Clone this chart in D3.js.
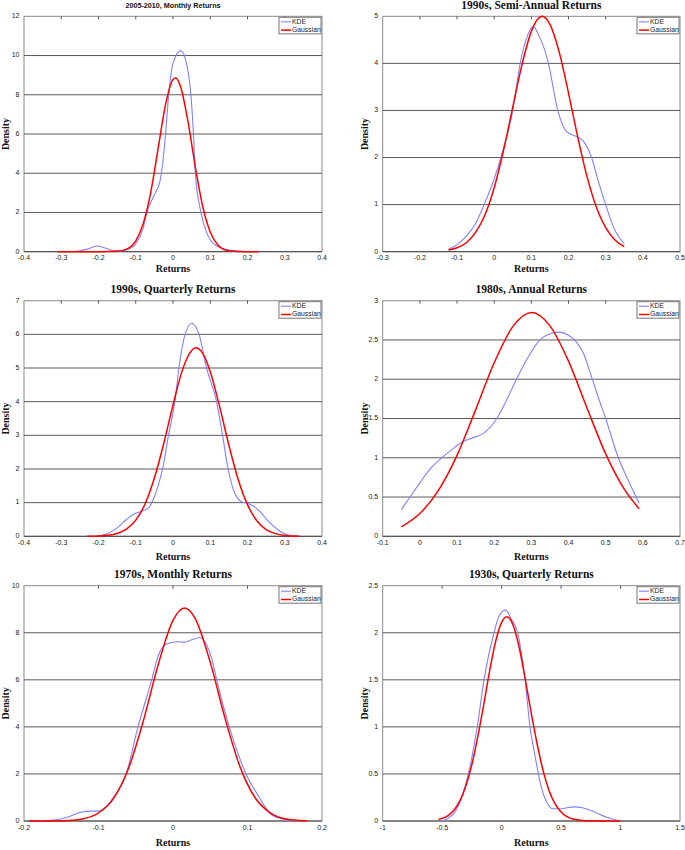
<!DOCTYPE html>
<html><head><meta charset="utf-8">
<script src="https://cdn.jsdelivr.net/npm/d3@7"></script>
<style>body{margin:0;background:#fff}svg{display:block}</style>
</head><body>
<svg id="c" width="685" height="850"></svg>
<script>
// ---------- DATA ----------
const titles = ["2005-2010, Monthly Returns","1990s, Semi-Annual Returns","1990s, Quarterly Returns","1980s, Annual Returns","1970s, Monthly Returns","1930s, Quarterly Returns"];
const legendLabels = ["KDE","Gaussian"];
const xTicks = [
  [-0.4,-0.3,-0.2,-0.1,0,0.1,0.2,0.3,0.4],
  [-0.3,-0.2,-0.1,0,0.1,0.2,0.3,0.4,0.5],
  [-0.4,-0.3,-0.2,-0.1,0,0.1,0.2,0.3,0.4],
  [-0.1,0,0.1,0.2,0.3,0.4,0.5,0.6,0.7],
  [-0.2,-0.1,0,0.1,0.2],
  [-1,-0.5,0,0.5,1,1.5]
];
const yTicks = [
  [0,2,4,6,8,10,12],
  [0,1,2,3,4,5],
  [0,1,2,3,4,5,6,7],
  [0,0.5,1,1.5,2,2.5,3],
  [0,2,4,6,8,10],
  [0,0.5,1,1.5,2,2.5]
];
// KDE curves [return, density]
const kde2005 = [[-0.3,0],[-0.26,0.02],[-0.23,0.13],[-0.205,0.29],[-0.18,0.18],[-0.16,0.06],[-0.14,0.04],[-0.12,0.12],[-0.1,0.4],[-0.08,1.2],[-0.07,2.0],[-0.05,2.9],[-0.035,3.6],[-0.027,4.6],[-0.02,6.0],[-0.012,7.9],[0.0,9.6],[0.021,10.25],[0.035,9.7],[0.048,8.0],[0.055,6.0],[0.06,4.0],[0.075,2.0],[0.09,1.0],[0.1,0.6],[0.117,0.3],[0.15,0.08],[0.2,0]];
const kde1990s = [[-0.123,0.05],[-0.1,0.15],[-0.075,0.33],[-0.05,0.6],[-0.027,1.0],[0.0,1.55],[0.018,2.0],[0.05,3.0],[0.07,4.0],[0.09,4.6],[0.105,4.78],[0.12,4.6],[0.146,4.0],[0.171,3.0],[0.195,2.55],[0.22,2.45],[0.24,2.35],[0.262,2.0],[0.28,1.5],[0.3,1.0],[0.325,0.45],[0.35,0.17]];
const kde1990q = [[-0.2,0.01],[-0.175,0.08],[-0.15,0.25],[-0.125,0.5],[-0.107,0.65],[-0.08,0.76],[-0.065,0.85],[-0.057,1.0],[-0.04,1.5],[-0.028,2.0],[-0.012,3.0],[0.005,4.0],[0.016,5.0],[0.03,5.9],[0.05,6.33],[0.07,6.0],[0.09,5.0],[0.117,4.0],[0.133,3.0],[0.148,2.0],[0.165,1.3],[0.185,1.02],[0.2,0.98],[0.215,0.9],[0.235,0.72],[0.25,0.52],[0.27,0.3],[0.29,0.13],[0.31,0.04],[0.336,0.01]];
const kde1980a = [[-0.05,0.34],[-0.0265,0.5],[0.0,0.68],[0.03,0.87],[0.059,1.0],[0.085,1.1],[0.114,1.2],[0.14,1.25],[0.171,1.31],[0.207,1.5],[0.235,1.75],[0.26,2.0],[0.29,2.27],[0.323,2.5],[0.35,2.58],[0.373,2.6],[0.4,2.56],[0.422,2.47],[0.44,2.33],[0.462,2.03],[0.48,1.77],[0.5,1.5],[0.534,1.0],[0.56,0.72],[0.58,0.52],[0.59,0.42]];
const kde1970m = [[-0.19,0],[-0.16,0.04],[-0.14,0.18],[-0.125,0.36],[-0.11,0.42],[-0.1,0.42],[-0.09,0.6],[-0.08,1.0],[-0.07,1.5],[-0.063,2.0],[-0.047,4.0],[-0.0286,6.0],[-0.02,7.0],[-0.01,7.5],[0.005,7.62],[0.016,7.6],[0.025,7.7],[0.036,7.8],[0.045,7.5],[0.052,6.9],[0.0587,6.0],[0.0756,4.0],[0.088,2.8],[0.098,2.0],[0.115,1.05],[0.13,0.33],[0.145,0.1],[0.17,0]];
const kde1930q = [[-0.504,0],[-0.45,0.03],[-0.39,0.1],[-0.336,0.25],[-0.28,0.5],[-0.205,1.0],[-0.148,1.5],[-0.064,2.0],[-0.02,2.18],[0.034,2.24],[0.08,2.15],[0.135,2.0],[0.197,1.5],[0.239,1.0],[0.28,0.7],[0.309,0.5],[0.34,0.33],[0.379,0.2],[0.435,0.13],[0.5,0.13],[0.547,0.14],[0.603,0.15],[0.68,0.14],[0.771,0.1],[0.884,0.04],[1.0,0]];
// Gaussian fit curves [return, density]
const gau2005 = [[-0.31,0],[-0.2,0.0],[-0.15,0.02],[-0.12,0.17],[-0.1,0.55],[-0.08,1.43],[-0.06,3.0],[-0.04,5.25],[-0.02,7.5],[0.0,8.78],[0.007,8.85],[0.02,8.44],[0.04,6.66],[0.06,4.31],[0.08,2.29],[0.1,1.0],[0.12,0.36],[0.15,0.05],[0.2,0.0],[0.23,0]];
const gau1990s = [[-0.123,0.035],[-0.1,0.083],[-0.075,0.19],[-0.05,0.41],[-0.025,0.78],[0.0,1.36],[0.025,2.15],[0.05,3.07],[0.075,3.98],[0.1,4.68],[0.129,5.0],[0.15,4.83],[0.175,4.24],[0.2,3.37],[0.225,2.43],[0.25,1.59],[0.275,0.945],[0.3,0.51],[0.325,0.25],[0.35,0.11]];
const gau1990q = [[-0.23,0.002],[-0.2,0.009],[-0.175,0.029],[-0.15,0.083],[-0.125,0.21],[-0.1,0.48],[-0.075,0.96],[-0.05,1.73],[-0.025,2.75],[0.0,3.9],[0.025,4.93],[0.05,5.52],[0.062,5.6],[0.075,5.51],[0.1,4.89],[0.125,3.86],[0.15,2.71],[0.175,1.69],[0.2,0.94],[0.225,0.46],[0.25,0.2],[0.275,0.079],[0.3,0.027],[0.34,0.004]];
const gau1980a = [[-0.05,0.12],[0.0,0.29],[0.05,0.585],[0.1,1.03],[0.15,1.61],[0.2,2.21],[0.25,2.67],[0.301,2.85],[0.35,2.68],[0.4,2.23],[0.45,1.63],[0.5,1.05],[0.55,0.6],[0.59,0.35]];
const gau1970m = [[-0.193,0],[-0.16,0.005],[-0.14,0.023],[-0.12,0.097],[-0.1,0.34],[-0.08,0.95],[-0.06,2.21],[-0.04,4.23],[-0.02,6.63],[0.0,8.53],[0.0155,9.05],[0.03,8.59],[0.05,6.74],[0.07,4.35],[0.09,2.3],[0.11,1.0],[0.13,0.36],[0.15,0.1],[0.18,0.011]];
const gau1930q = [[-0.53,0.016],[-0.45,0.058],[-0.4,0.116],[-0.35,0.216],[-0.3,0.375],[-0.25,0.6],[-0.2,0.9],[-0.15,1.24],[-0.1,1.6],[-0.05,1.91],[0.0,2.11],[0.043,2.17],[0.1,2.07],[0.15,1.83],[0.2,1.5],[0.25,1.14],[0.3,0.81],[0.35,0.53],[0.4,0.32],[0.45,0.183],[0.5,0.096],[0.6,0.021],[0.7,0.003],[0.8,0.0003],[1.0,0]];
const kdeSeries = [kde2005,kde1990s,kde1990q,kde1980a,kde1970m,kde1930q];
const gauSeries = [gau2005,gau1990s,gau1990q,gau1980a,gau1970m,gau1930q];

// ---------- LAYOUT ----------
const svg = d3.select("#c");
const cols = [{x0:24,x1:322},{x0:382.7,x1:680}];
const rows = [{y0:16.3,y1:251.7,title:6,xl:258.5,lab:269.5},{y0:300.7,y1:536.3,title:290,xl:543.5,lab:557.3},{y0:585.7,y1:821,title:575,xl:828,lab:843.3}];
const SANS = "'Liberation Sans', Arial, sans-serif";
const SERIF = "'Liberation Serif', 'Times New Roman', serif";
const fmt = v => String(+v.toFixed(2));

for (let i=0;i<6;i++){
  const c = cols[i%2], r = rows[Math.floor(i/2)];
  const xt = xTicks[i], yt = yTicks[i];
  const x = d3.scaleLinear().domain([xt[0], xt[xt.length-1]]).range([c.x0,c.x1]);
  const y = d3.scaleLinear().domain([yt[0], yt[yt.length-1]]).range([r.y1,r.y0]);
  const g = svg.append("g");
  // box
  g.append("rect").attr("x",c.x0).attr("y",r.y0).attr("width",c.x1-c.x0).attr("height",r.y1-r.y0)
    .attr("fill","#fff").attr("stroke","#8a8a8a").attr("stroke-width",1);
  // gridlines
  g.selectAll(".grid").data(yt.slice(1,-1)).enter().append("line")
    .attr("x1",c.x0).attr("x2",c.x1).attr("y1",d=>y(d)).attr("y2",d=>y(d))
    .attr("stroke","#5a5a5a").attr("stroke-width",1);
  // top tick marks
  g.selectAll(".tt").data(xt.slice(1,-1)).enter().append("line")
    .attr("x1",d=>x(d)).attr("x2",d=>x(d)).attr("y1",r.y0).attr("y2",r.y0+3)
    .attr("stroke","#555").attr("stroke-width",1);
  // bottom axis line
  g.append("line").attr("x1",c.x0).attr("x2",c.x1).attr("y1",r.y1).attr("y2",r.y1).attr("stroke","#444").attr("stroke-width",1);
  // x tick labels
  g.selectAll(".xl").data(xt).enter().append("text")
    .attr("x",d=>x(d)).attr("y",r.xl).attr("text-anchor","middle").attr("dominant-baseline","middle")
    .attr("font-family",SANS).attr("font-size",7).attr("fill","#222").text(fmt);
  // y tick labels
  g.selectAll(".yl").data(yt).enter().append("text")
    .attr("x",c.x0-4.5).attr("y",d=>y(d)).attr("text-anchor","end").attr("dominant-baseline","middle")
    .attr("font-family",SANS).attr("font-size",7).attr("fill","#222").text(fmt);
  // curves
  const line = d3.line().x(d=>x(d[0])).y(d=>y(d[1])).curve(d3.curveMonotoneX);
  g.append("path").attr("d",line(kdeSeries[i])).attr("fill","none").attr("stroke","#8080ff").attr("stroke-width",1.1);
  g.append("path").attr("d",line(gauSeries[i])).attr("fill","none").attr("stroke","#ff0000").attr("stroke-width",1.5);
  // title
  const cx = (c.x0+c.x1)/2;
  if (i===0){
    g.append("text").attr("x",cx).attr("y",r.title).attr("text-anchor","middle").attr("dominant-baseline","middle")
      .attr("font-family",SANS).attr("font-weight","bold").attr("font-size",7.2).attr("fill","#111").text(titles[i]);
  } else {
    g.append("text").attr("x",cx).attr("y",r.title).attr("text-anchor","middle").attr("dominant-baseline","middle")
      .attr("font-family",SERIF).attr("font-weight","bold").attr("font-size",11.5).attr("fill","#111").text(titles[i]);
  }
  // axis labels
  g.append("text").attr("x",cx).attr("y",r.lab).attr("text-anchor","middle").attr("dominant-baseline","middle")
    .attr("font-family",SERIF).attr("font-weight","bold").attr("font-size",10).attr("fill","#111").text("Returns");
  const ly = (r.y0+r.y1)/2, lx = c.x0-17;
  g.append("text").attr("transform",`translate(${lx},${ly}) rotate(-90)`).attr("text-anchor","middle").attr("dominant-baseline","middle")
    .attr("font-family",SERIF).attr("font-weight","bold").attr("font-size",10).attr("fill","#111").text("Density");
  // legend
  const lw = 42, lh = 16.5, lx0 = c.x1-lw-1, ly0 = r.y0+1;
  const lg = g.append("g");
  lg.append("rect").attr("x",lx0).attr("y",ly0).attr("width",lw).attr("height",lh).attr("fill","#fff").attr("stroke","#777").attr("stroke-width",1);
  const lcols = ["#8080ff","#ff0000"], lwid=[1.1,1.5];
  legendLabels.forEach((t,k)=>{
    const yy = ly0+4.5+k*8.3;
    lg.append("line").attr("x1",lx0+2).attr("x2",lx0+12).attr("y1",yy).attr("y2",yy).attr("stroke",lcols[k]).attr("stroke-width",lwid[k]);
    lg.append("text").attr("x",lx0+13).attr("y",yy).attr("dominant-baseline","middle").attr("font-family",SANS).attr("font-size",6.8).attr("fill","#222").text(t);
  });
}
</script>
</body></html>
